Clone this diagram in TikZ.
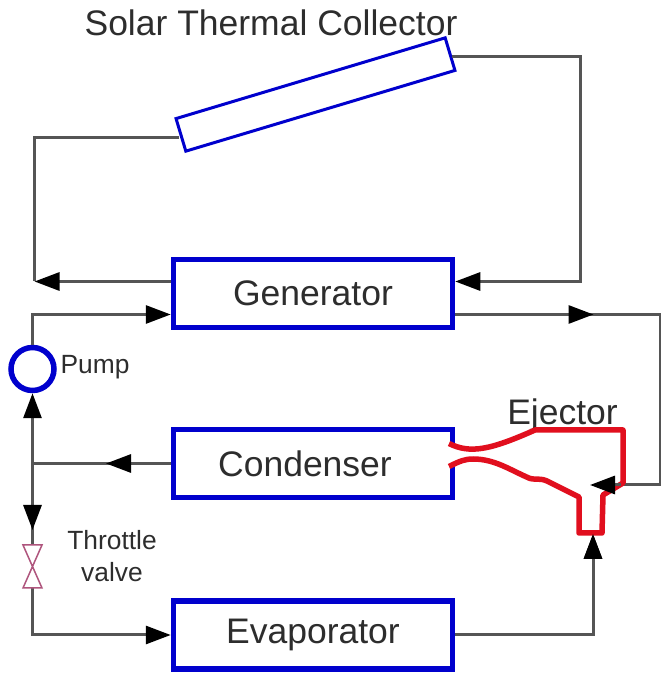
\documentclass[tikz,border=0pt]{standalone}
\usepackage{fontspec}
\setmainfont{Liberation Sans}
\usetikzlibrary{
  arrows.meta,
  calc,
  shapes.geometric
}
\definecolor{boxblue}{RGB}{0,0,205}
\definecolor{pipegray}{RGB}{85,85,85}
\definecolor{valvepink}{RGB}{175,85,125}
\definecolor{ejectred}{RGB}{225,15,30}
\definecolor{textgray}{RGB}{45,45,45}

\begin{document}
\begin{tikzpicture}

\tikzset{
  unit/.style={
    draw=boxblue,
    rectangle,
    fill=white,
    line width=0.11cm,
    minimum width=5.58cm,
    minimum height=1.36cm,
    inner sep=0pt,
    text=textgray,
    font=\fontsize{20.2}{24}\selectfont
  },
  lbl/.style={
    text=textgray,
    align=center,
    inner sep=0pt,
    font=\fontsize{15}{18.1}\selectfont
  },
  biglbl/.style={
    lbl,
    font=\fontsize{20.2}{24}\selectfont
  },
  pipe/.style={
    draw=pipegray,
    line width=0.06cm
  },
  >={Triangle[length=5mm, width=3.6mm, color=black]}
}

\useasboundingbox (0,0) rectangle (13.22,13.5);

% Nodes units
\node[unit] (generator)  at (6.26, 7.63) {Generator};
\node[unit] (condenser)  at (6.26, 4.23) {Condenser\kern0.32cm};
\node[unit] (evaporator) at (6.26, 0.80) {Evaporator};

% Node collector
\node[draw=boxblue, rectangle, fill=white, line width=0.06cm, minimum width=5.62cm, minimum height=0.68cm, rotate=16.7] (collector) at (6.31, 11.61) {};

% Node pump
\node[draw=boxblue, circle, line width=0.11cm, minimum size=0.86cm, inner sep=0pt] (pump) at (0.65, 6.12) {};

% Node valve
\node[minimum width=0.38cm, minimum height=0.86cm, inner sep=0pt, outer sep=0pt] (valve) at (0.65, 2.17) {};

% Nodes labels
\node[biglbl] (solar)    at (5.42, 13.05) {Solar Thermal Collector};
\node[biglbl] (ejector)  at (11.25, 5.20) {Ejector};
\node[lbl]    (pumpname) at (1.90, 6.16)  {Pump};
\node[lbl]    (valvename) at (2.24, 2.38) {Throttle\\valve};

% Coordinates pipes
\coordinate (tl) at (0.69, 10.74);
\coordinate (tr) at (11.60, 12.36);
\coordinate (gl) at (0.69, 7.87);
\coordinate (gr) at (11.60, 7.87);
\coordinate (gi) at ($(generator.west)+(0,-0.42)$);
\coordinate (go) at ($(generator.east)+(0,-0.42)$);
\coordinate (om) at (11.87, 7.21);
\coordinate (oc) at (13.20, 7.21);
\coordinate (oe) at (13.20, 3.80);
\coordinate (ew) at (12.42, 3.80);
\coordinate (et) at (11.80, 3.80);
\coordinate (eb) at (11.86, 2.82);
\coordinate (cm) at (2.12, 4.23);
\coordinate (jn) at (0.65, 4.23);
\coordinate (vm) at (0.65, 2.90);

% Arrows collector
\draw[pipe] (collector.west |- tl) -- (tl) -- (gl);
\draw[pipe, ->] (generator.west |- gl) -- (gl);
\draw[pipe, ->] (collector.east |- tr) -- (tr) -- (gr) -- (generator.east |- gr);

% Arrows generator
\draw[pipe, ->] (pump.north) |- (gi);
\draw[pipe] (go) -- (oc) -- (oe) -- (ew);
\draw[pipe, ->] (go) -- (om);

% Arrows condenser
\draw[pipe] (condenser.west) -- (jn);
\draw[pipe, ->] (condenser.west) -- (cm);
\draw[pipe, ->] (jn) -- (pump.south);
\draw[pipe] (jn) -- (valve.north);
\draw[pipe, ->] (jn) -- (vm);

% Arrows evaporator
\draw[pipe, ->] (valve.south) |- (evaporator.west);
\draw[pipe, ->] (evaporator.east) -| (eb);

% Valve
\draw[valvepink, line width=0.03cm, fill=white] (valve.north west) -- (valve.north east) -- (valve.south west) -- (valve.south east) -- cycle;

% Ejector
\path[draw=ejectred, fill=white, line width=0.11cm, line join=round]
(8.98, 4.63) .. controls (9.4, 4.42) and (9.8, 4.5) .. (10.7, 4.90)
-- (12.46, 4.90) -- (12.46, 3.84) -- (12.06, 3.60) -- (12.04, 2.84) -- (11.58, 2.84) -- (11.58, 3.56) -- (10.94, 3.88)
.. controls (10.8, 3.94) and (10.75, 3.9) .. (10.6, 3.93)
.. controls (10.2, 4.1) and (9.9, 4.32) .. (9.46, 4.32)
.. controls (9.3, 4.32) and (9.2, 4.28) .. (8.98, 4.17);

% Arrows ejector
\draw[pipe, ->] (ew) -- (et);
\draw[pipe, ->] (eb |- evaporator.east) -- (eb);

\end{tikzpicture}
\end{document}
